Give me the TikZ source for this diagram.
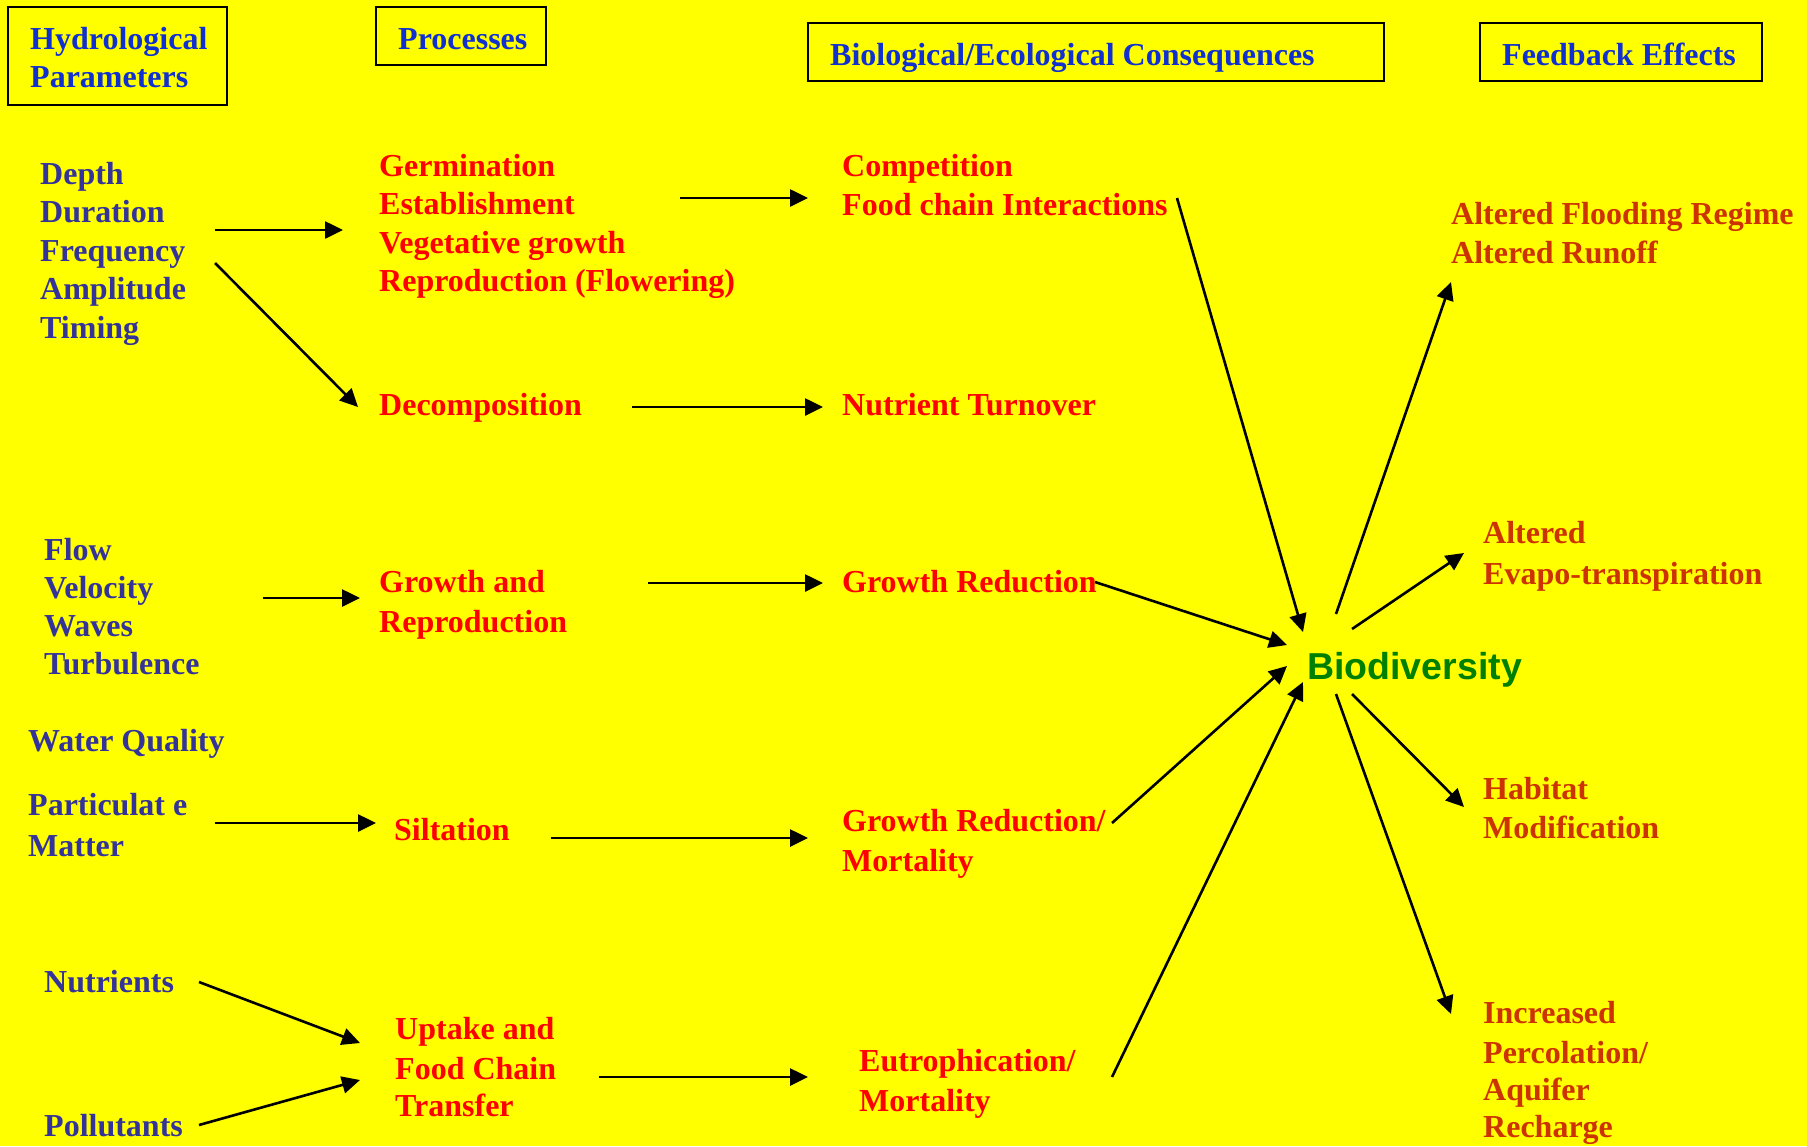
\documentclass[tikz,border=0pt]{standalone}
\usepackage{fontspec}
\setmainfont{Liberation Serif}
\newfontfamily\biofont{Liberation Sans}
\usetikzlibrary{arrows.meta}
\definecolor{bgyellow}{RGB}{255,255,0}
\definecolor{hdrblue}{RGB}{16,48,208}
\definecolor{parblue}{RGB}{51,51,153}
\definecolor{procred}{RGB}{255,0,0}
\definecolor{fbred}{RGB}{204,51,0}
\definecolor{biogreen}{RGB}{0,128,0}
\begin{document}
\begin{tikzpicture}[x=1pt,y=-1pt,
  txt/.style={anchor=base west, inner sep=0pt, font=\fontsize{32}{39}\selectfont\bfseries},
  hdr/.style={txt, text=hdrblue},
  par/.style={txt, text=parblue},
  proc/.style={txt, text=procred},
  fb/.style={txt, text=fbred},
  hbox/.style={draw=black, line width=2.6pt},
  arr/.style={draw=black, line width=2.6pt, -{Triangle[length=18pt,width=17pt]}}]
\fill[bgyellow] (0,0) rectangle (1807,1146);
\useasboundingbox (0,0) rectangle (1807,1146);

% header boxes
\draw[hbox] (8,7) rectangle (227,105);
\draw[hbox] (376,7) rectangle (546,65);
\draw[hbox] (808,23) rectangle (1384,81);
\draw[hbox] (1480,23) rectangle (1762,81);
\node[hdr] (hHyd1) at (30,49) {Hydrological};
\node[hdr] (hHyd2) at (30,87) {Parameters};
\node[hdr] (hProc) at (398,49) {Processes};
\node[hdr] (hBio) at (830,65) {Biological/Ecological Consequences};
\node[hdr] (hFb) at (1502,65) {Feedback Effects};

% hydrological parameters
\node[par] (depth) at (40,184) {Depth};
\node[par] (duration) at (40,222.5) {Duration};
\node[par] (frequency) at (40,261) {Frequency};
\node[par] (amplitude) at (40,299.5) {Amplitude};
\node[par] (timing) at (40,338) {Timing};
\node[par] (flow) at (44,560) {Flow};
\node[par] (velocity) at (44,598) {Velocity};
\node[par] (waves) at (44,636) {Waves};
\node[par] (turb) at (44,674) {Turbulence};
\node[par] (wq) at (28,751) {Water Quality};
\node[par] (partic) at (28,815) {Particulat e};
\node[par] (matter) at (28,856) {Matter};
\node[par] (nutr) at (44,992) {Nutrients};
\node[par] (poll) at (44,1136) {Pollutants};

% processes
\node[proc] (germ) at (379,176) {Germination};
\node[proc] (estab) at (379,214.5) {Establishment};
\node[proc] (veg) at (379,253) {Vegetative growth};
\node[proc] (repfl) at (379,291) {Reproduction (Flowering)};
\node[proc] (decomp) at (379,415) {Decomposition};
\node[proc] (growth) at (379,592) {Growth and};
\node[proc] (repro) at (379,632) {Reproduction};
\node[proc] (silt) at (394,840) {Siltation};
\node[proc] (uptake) at (395,1039) {Uptake and};
\node[proc] (foodch) at (395,1079) {Food Chain};
\node[proc] (transfer) at (395,1116) {Transfer};

% consequences
\node[proc] (compet) at (842,176) {Competition};
\node[proc] (fci) at (842,215) {Food chain Interactions};
\node[proc] (nutto) at (842,415) {Nutrient Turnover};
\node[proc] (grred) at (842,592) {Growth Reduction};
\node[proc] (grred2) at (842,831) {Growth Reduction/};
\node[proc] (mort1) at (842,871) {Mortality};
\node[proc] (eutro) at (859,1071) {Eutrophication/};
\node[proc] (mort2) at (859,1111) {Mortality};

% biodiversity
\node[anchor=base west, inner sep=0pt, text=biogreen, font=\biofont\fontsize{37.5}{40}\selectfont\bfseries] (bio) at (1307,679) {Biodiversity};

% feedback effects
\node[fb] (afr) at (1451,224) {Altered Flooding Regime};
\node[fb] (aro) at (1451,263) {Altered Runoff};
\node[fb] (alt) at (1483,543) {Altered};
\node[fb] (evapo) at (1483,584) {Evapo-transpiration};
\node[fb] (habitat) at (1483,799) {Habitat};
\node[fb] (modif) at (1483,838) {Modification};
\node[fb] (incr) at (1483,1023) {Increased};
\node[fb] (perc) at (1483,1063) {Percolation/};
\node[fb] (aquif) at (1483,1100) {Aquifer};
\node[fb] (rech) at (1483,1137) {Recharge};

% connector end points
\coordinate (a1s) at (215,230);  \coordinate (a1e) at (343,230);
\coordinate (a2s) at (215,263);  \coordinate (a2e) at (358,407);
\coordinate (a3s) at (680,198);  \coordinate (a3e) at (808,198);
\coordinate (a4s) at (632,407);  \coordinate (a4e) at (823,407);
\coordinate (a5s) at (263,598);  \coordinate (a5e) at (360,598);
\coordinate (a6s) at (648,583);  \coordinate (a6e) at (823,583);
\coordinate (a7s) at (215,823);  \coordinate (a7e) at (376,823);
\coordinate (a8s) at (551,838);  \coordinate (a8e) at (808,838);
\coordinate (a9s) at (199,982);  \coordinate (a9e) at (360,1043);
\coordinate (a10s) at (199,1125); \coordinate (a10e) at (360,1080);
\coordinate (a11s) at (599,1077); \coordinate (a11e) at (808,1077);
\coordinate (b1s) at (1177,198); \coordinate (b1e) at (1303,632);
\coordinate (b2s) at (1095,582); \coordinate (b2e) at (1287,645);
\coordinate (b3s) at (1112,823); \coordinate (b3e) at (1287,666);
\coordinate (b4s) at (1112,1077); \coordinate (b4e) at (1303,682);
\coordinate (c1s) at (1336,614); \coordinate (c1e) at (1451,282);
\coordinate (c2s) at (1352,629); \coordinate (c2e) at (1464,553);
\coordinate (c3s) at (1352,694); \coordinate (c3e) at (1464,807);
\coordinate (c4s) at (1336,694); \coordinate (c4e) at (1451,1014);

\foreach \s/\e in {a1s/a1e,a2s/a2e,a3s/a3e,a4s/a4e,a5s/a5e,a6s/a6e,a7s/a7e,a8s/a8e,a9s/a9e,a10s/a10e,a11s/a11e,b1s/b1e,b2s/b2e,b3s/b3e,b4s/b4e,c1s/c1e,c2s/c2e,c3s/c3e,c4s/c4e}
  \draw[arr] (\s) -- (\e);
\end{tikzpicture}
\end{document}
